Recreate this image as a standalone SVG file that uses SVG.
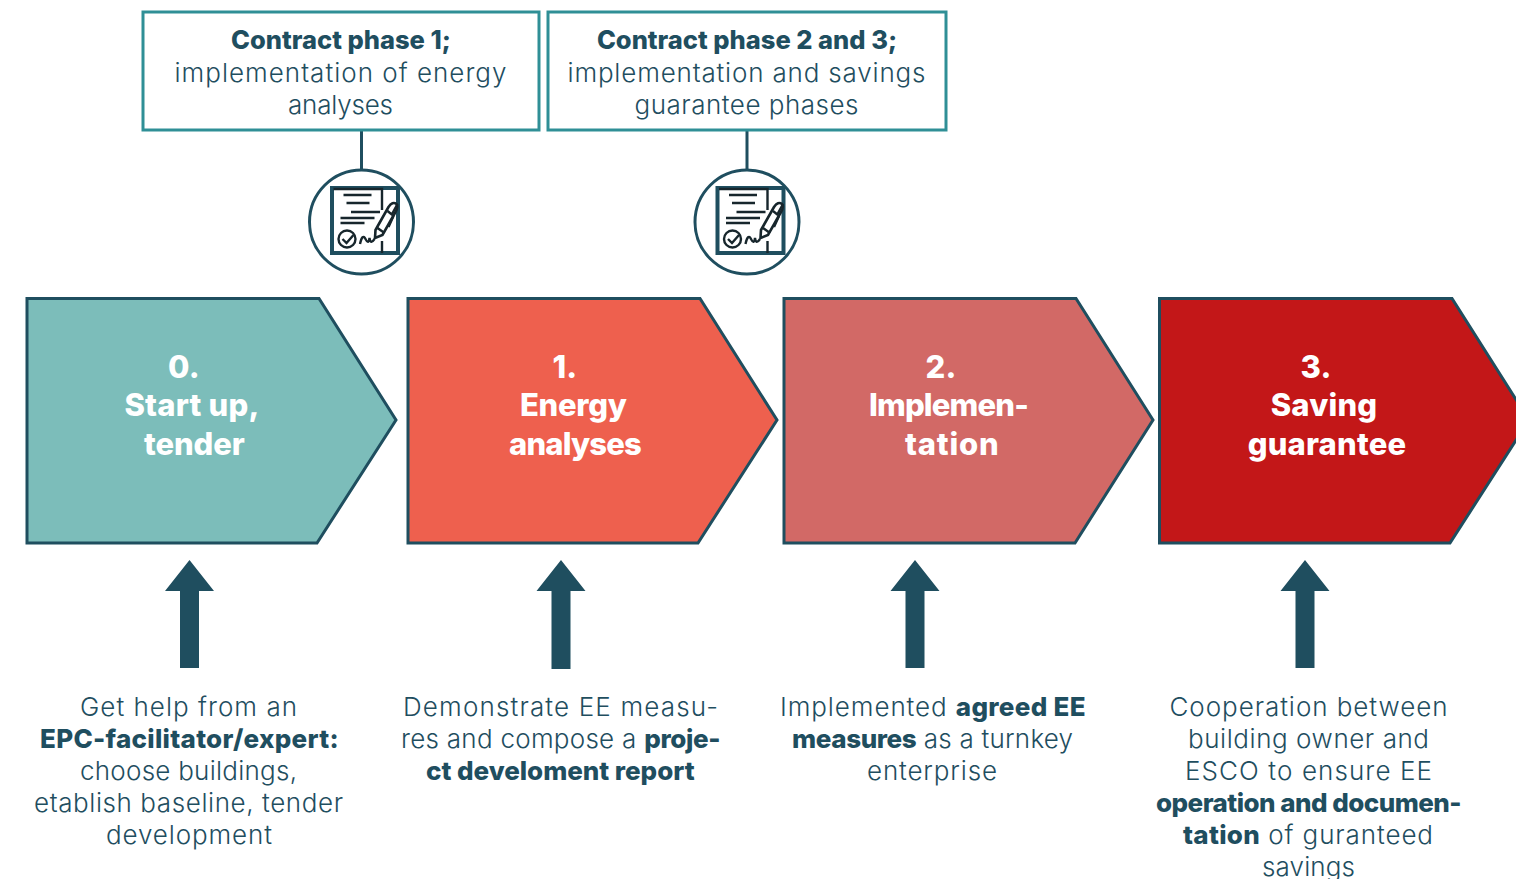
<svg xmlns="http://www.w3.org/2000/svg" xmlns:xlink="http://www.w3.org/1999/xlink" width="1516" height="879" viewBox="0 0 1516 879">
<style>
text{font-family:"Inter","Noto Sans",sans-serif;text-anchor:middle;fill:#1f4e5f}
.t{font-size:26px;font-weight:300;letter-spacing:1px}
.t tspan.b,.t.b{font-weight:800;letter-spacing:.4px}
.c{font-size:25.500px;font-weight:800}
.h{font-size:31px;font-weight:800;fill:#fff;letter-spacing:.2px}
.box{fill:#fff;stroke:#2f8f96;stroke-width:3}
.ch{stroke:#1f4e5f;stroke-width:3}
.up{fill:#1f4e5f}
.ln{stroke:#1f4e5f;stroke-width:3;fill:none}
.ic{stroke:#17262c;fill:none;stroke-width:2.400}
</style>
<defs>
<g id="icon">
<circle cx="0" cy="0" r="52" fill="#fff" stroke="#1f4e5f" stroke-width="3"/>
<rect x="-29.500" y="-34" width="66" height="65" fill="none" stroke="#1f4e5f" stroke-width="4"/>
<path class="ic" d="M-28 -33H20.500V-12M20.500 19V31"/>
<path class="ic" stroke-width="2.600" d="M-18 -27H10M-15 -19H8M-10.500 -10H18.500M-21 -4H13M-21 1H3"/>
<circle class="ic" cx="-14.500" cy="17" r="8.500"/>
<path class="ic" d="M-19 17L-15 21L-8 13"/>
<path class="ic" d="M-1.500 22Q1 11 4 17T8 16Q9 23 13 17"/>
<path d="M13.500 16L14 8L27 -15Q31 -21 35 -18Q37 -15 34 -10L21 13Z" fill="#fff" stroke="#17262c" stroke-width="2.600"/>
<path class="ic" d="M16 6L23 11M26 -11L31 -7M30 -7L36 -18M32 -6L27 5"/>
</g>
</defs>
<g id="connectors">
<line class="ln" x1="361.500" y1="130" x2="361.500" y2="170"/>
<line class="ln" x1="747" y1="130" x2="747" y2="170"/>
</g>
<g id="box-1"><rect class="box" x="143" y="12" width="396" height="118"/>
<text class="c" x="341" y="49">Contract phase 1;</text>
<text class="t" x="341" y="82" textLength="333">implementation of energy</text>
<text class="t" x="341" y="114" textLength="106">analyses</text></g>
<g id="box-2"><rect class="box" x="548" y="12" width="398" height="118"/>
<text class="c" x="747" y="49">Contract phase 2 and 3;</text>
<text class="t" x="747" y="82" textLength="359">implementation and savings</text>
<text class="t" x="747" y="114" textLength="225">guarantee phases</text></g>
<g id="icon-1"><use xlink:href="#icon" href="#icon" x="361.500" y="222"/></g>
<g id="icon-2"><use xlink:href="#icon" href="#icon" x="747" y="222"/></g>
<g id="step-0"><path class="ch" fill="#7cbdba" d="M27 298.500H319L396 420L317 543H27Z"/>
<text class="h" x="184" y="378">0.</text><text class="h" x="192" y="416">Start up,</text><text class="h" x="194.500" y="455" textLength="101">tender</text></g>
<g id="step-1"><path class="ch" fill="#ee604e" d="M408 298.500H700L777 420L698 543H408Z"/>
<text class="h" x="565" y="378">1.</text><text class="h" x="573.500" y="416" textLength="107">Energy</text><text class="h" x="575.500" y="455" textLength="133">analyses</text></g>
<g id="step-2"><path class="ch" fill="#d26966" d="M784 298.500H1076L1153 420L1075 543H784Z"/>
<text class="h" x="941" y="378">2.</text><text class="h" x="949" y="416" textLength="160">Implemen-</text><text class="h" x="952" y="455" textLength="94">tation</text></g>
<g id="step-3"><path class="ch" fill="#c31718" d="M1159.500 298.500H1452L1529 420L1450 543H1159.500Z"/>
<text class="h" x="1316" y="378">3.</text><text class="h" x="1324" y="416">Saving</text><text class="h" x="1327" y="455">guarantee</text></g>
<g id="arrow-0"><path class="up" d="M189.500 560L214 591H199V668H180V591H165Z"/></g>
<g id="arrow-1"><path class="up" d="M561 560L585.500 591H570.500V669H551.500V591H536.500Z"/></g>
<g id="arrow-2"><path class="up" d="M915 560L939.500 591H924.500V668H905.500V591H890.500Z"/></g>
<g id="arrow-3"><path class="up" d="M1305 560L1329.500 591H1314.500V668H1295.500V591H1280.500Z"/></g>
<g id="text-0">
<text class="t" x="189" y="716" textLength="218">Get help from an</text>
<text class="t b" x="189.500" y="748" textLength="299">EPC-facilitator/expert:</text>
<text class="t" x="189" y="780" textLength="218">choose buildings,</text>
<text class="t" x="189" y="812" textLength="310">etablish baseline, tender</text>
<text class="t" x="189.500" y="844" textLength="167">development</text></g>
<g id="text-1">
<text class="t" x="561" y="716" textLength="316">Demonstrate EE measu-</text>
<text class="t" x="561" y="748" textLength="320">res and compose a <tspan class="b">proje-</tspan></text>
<text class="t b" x="560.500" y="780" textLength="269">ct develoment report</text></g>
<g id="text-2">
<text class="t" x="933" y="716" textLength="306">Implemented <tspan class="b">agreed EE</tspan></text>
<text class="t" x="933" y="748" textLength="282"><tspan class="b">measures</tspan> as a turnkey</text>
<text class="t" x="932.500" y="780" textLength="131">enterprise</text></g>
<g id="text-3">
<text class="t" x="1309" y="716" textLength="279">Cooperation between</text>
<text class="t" x="1309" y="748" textLength="242">building owner and</text>
<text class="t" x="1309" y="780" textLength="248">ESCO to ensure EE</text>
<text class="t b" x="1309" y="812" textLength="306">operation and documen-</text>
<text class="t" x="1308.500" y="844" textLength="251"><tspan class="b">tation</tspan> of guranteed</text>
<text class="t" x="1309" y="876" textLength="94">savings</text></g>
</svg>
